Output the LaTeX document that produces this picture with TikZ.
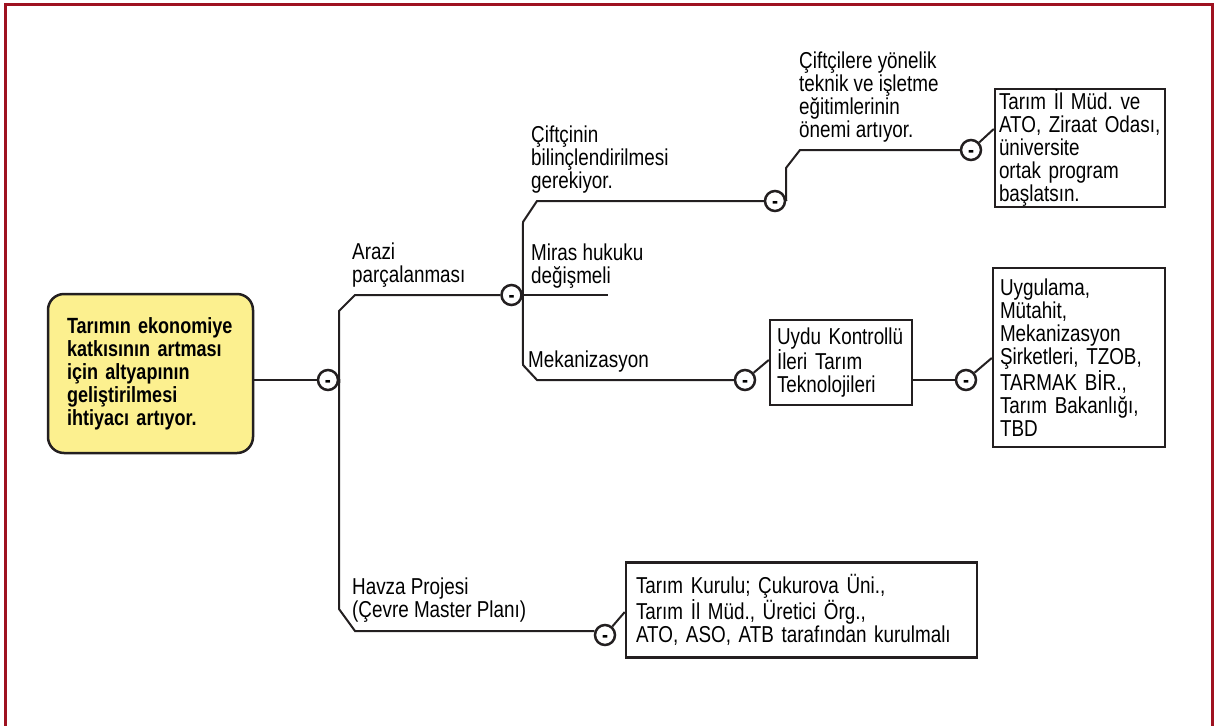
\documentclass[tikz,border=0pt]{standalone}
\usepackage{fontspec}
\setmainfont{Liberation Sans}[FakeStretch=0.82]
\hyphenpenalty=10000
\exhyphenpenalty=10000
\frenchspacing
\definecolor{framered}{RGB}{158,18,32}
\definecolor{rootfill}{RGB}{252,240,143}
\definecolor{ink}{RGB}{35,31,32}
\newcommand\fixspace{\spaceskip=\fontdimen2\font\relax}
\tikzset{
  branch/.style={draw=ink, line width=2pt},
  minus/.style={circle, draw=ink, fill=white, line width=2.5pt, minimum size=20pt,
    inner sep=0pt, font=\bfseries\fontsize{22}{23}\selectfont},
  lbl/.style={anchor=south west, inner sep=0pt, align=left,
    font=\fontsize{23}{23}\selectfont, execute at end node=\strut},
  box/.style={draw=ink, line width=2.5pt, align=left, inner xsep=7pt, inner ysep=0pt,
    font=\fontsize{23}{23}\selectfont\fixspace},
  root/.style={draw=ink, fill=rootfill, rounded corners=16pt, line width=2.5pt,
    text width=167pt, inner xsep=19pt, minimum height=159pt, align=left,
    font=\bfseries\fontsize{22}{23}\selectfont\fixspace}
}
\begin{document}
\begin{tikzpicture}[x=1pt,y=-1pt]
\useasboundingbox (0,0) rectangle (1219,726);

% frame
\draw[framered, line width=3pt] (5,4) rectangle (1212,760);

% main topic
\node[root] (root) at (150.5,373.5) {Tarımın ekonomiye\\katkısının artması\\için altyapının\\geliştirilmesi\\ihtiyacı artıyor.};

% collapse markers
\node[minus] (c1) at (328,380) {\rule{0pt}{14pt}-};
\node[minus] (c2) at (511.5,295) {\rule{0pt}{14pt}-};
\node[minus] (c3) at (775,201) {\rule{0pt}{14pt}-};
\node[minus] (c4) at (971,150) {\rule{0pt}{14pt}-};
\node[minus] (c5) at (745,380) {\rule{0pt}{14pt}-};
\node[minus] (c6) at (966,380) {\rule{0pt}{14pt}-};
\node[minus] (c7) at (605,635) {\rule{0pt}{14pt}-};
\coordinate (mirasend) at (608,295);

% branch labels
\node[lbl] (arazi) at (352,290) {Arazi\\parçalanması};
\node[lbl] (miras) at (531,291) {Miras hukuku\\değişmeli};
\node[lbl] (bilinc) at (531,196) {Çiftçinin\\bilinçlendirilmesi\\gerekiyor.};
\node[lbl] (egitim) at (799,145) {Çiftçilere yönelik\\teknik ve işletme\\eğitimlerinin\\önemi artıyor.};
\node[lbl] (mekaniz) at (528,375) {Mekanizasyon};
\node[lbl] (havza) at (352,625) {Havza Projesi\\(Çevre Master Planı)};

% boxes
\node[box, text width=162pt, inner xsep=4pt, minimum height=118pt] (kurum) at (1080,148)
  {Tarım İl Müd. ve\\ATO, Ziraat Odası,\\üniversite\\ortak program\\başlatsın.};
\node[box, text width=128pt, minimum height=85pt] (uydu) at (841,362.5)
  {Uydu Kontrollü\\İleri Tarım\\Teknolojileri};
\node[box, text width=158pt, minimum height=179pt] (paydas) at (1079,357.5)
  {Uygulama,\\Mütahit,\\Mekanizasyon\\Şirketleri, TZOB,\\TARMAK BİR.,\\Tarım Bakanlığı,\\TBD};
\node[box, text width=331pt, inner xsep=10pt, minimum height=95pt] (kurul) at (801.5,610)
  {Tarım Kurulu; Çukurova Üni.,\\Tarım İl Müd., Üretici Örg.,\\ATO, ASO, ATB tarafından kurulmalı};

% trunks
\draw[branch] (root.east |- c1) -- (c1);
\draw[branch] (c2) -- (355,295) -- (339,311) -- (c1.east) -- (339,609) -- (355,631) -- (c7.160);
\draw[branch] (c3) -- (537,201) -- (523,222) -- (c2.east) -- (523,365) -- (537,380) -- (c5);
\draw[branch] (c4) -- (800,150) -- (786,168) -- (c3.east);
\draw[branch] (c2) -- (mirasend);

% links to boxes
\draw[branch] (c4) -- (kurum.west |- 0,129);
\draw[branch] (c5) -- (uydu.west |- 0,360);
\draw[branch] (uydu.east |- c6) -- (c6);
\draw[branch] (c6) -- (paydas.west |- 0,358);
\draw[branch] (c7) -- (kurul.west |- 0,612);

\end{tikzpicture}
\end{document}
